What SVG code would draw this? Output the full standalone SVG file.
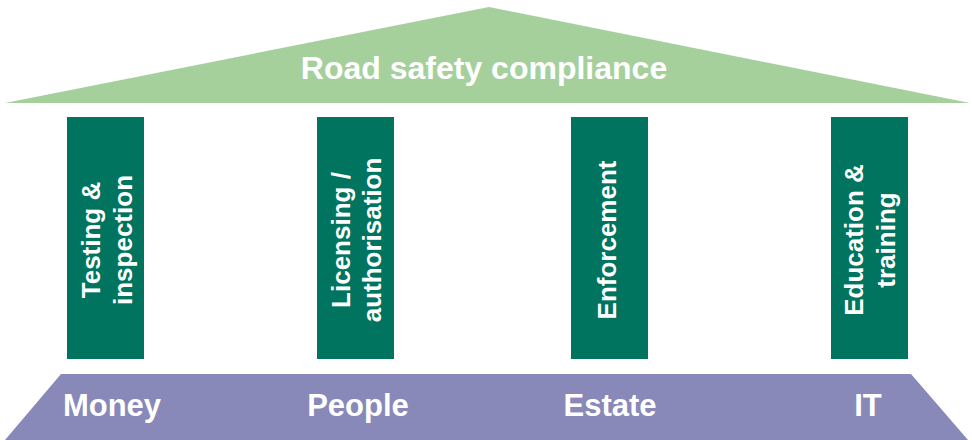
<svg xmlns="http://www.w3.org/2000/svg" width="972" height="440" viewBox="0 0 972 440">
<style>
.t{font-family:"Liberation Sans",Arial,sans-serif;font-weight:bold;fill:#fff;text-anchor:middle}
.roof{fill:#A5D09C}
.pillar{fill:#00745F}
.base{fill:#8888B9}
</style>
<rect width="972" height="440" fill="#fff"/>
<g id="roof">
<polygon class="roof" points="489,7 970,103 5,103"/>
<text class="t" x="484" y="79" font-size="32">Road safety compliance</text>
</g>
<g id="pillar-testing">
<rect class="pillar" x="67" y="117" width="77" height="242"/>
<text class="t" font-size="26" transform="translate(100,240) rotate(-90)">Testing &amp;</text>
<text class="t" font-size="26" transform="translate(132,240) rotate(-90)">inspection</text>
</g>
<g id="pillar-licensing">
<rect class="pillar" x="317" y="117" width="77" height="242"/>
<text class="t" font-size="26" transform="translate(350,240) rotate(-90)">Licensing /</text>
<text class="t" font-size="26" transform="translate(381,240) rotate(-90)">authorisation</text>
</g>
<g id="pillar-enforcement">
<rect class="pillar" x="571" y="117" width="77" height="242"/>
<text class="t" font-size="26" transform="translate(616,240) rotate(-90)">Enforcement</text>
</g>
<g id="pillar-education">
<rect class="pillar" x="831" y="117" width="77" height="242"/>
<text class="t" font-size="26" transform="translate(863,240) rotate(-90)">Education &amp;</text>
<text class="t" font-size="26" transform="translate(895,240) rotate(-90)">training</text>
</g>
<g id="base">
<polygon class="base" points="61,374 911,374 968,440 5,440"/>
<text class="t" x="112" y="416" font-size="31">Money</text>
<text class="t" x="358" y="416" font-size="31">People</text>
<text class="t" x="610" y="416" font-size="31">Estate</text>
<text class="t" x="868" y="416" font-size="31">IT</text>
</g>
<g id="connectors"/>
</svg>
